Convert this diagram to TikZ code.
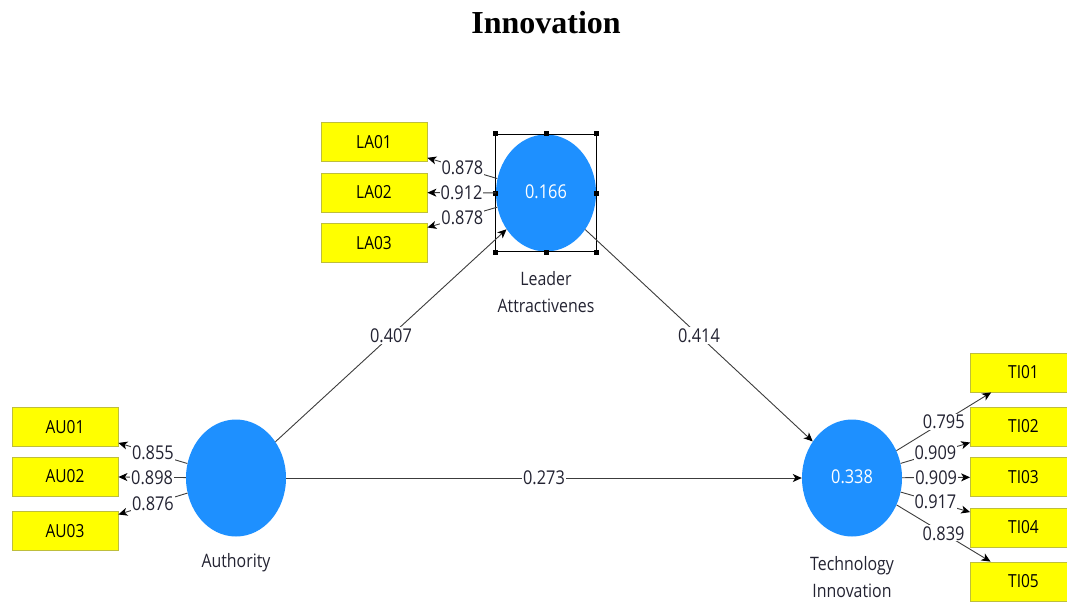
\documentclass[tikz,border=0pt]{standalone}
\usepackage{fontspec}
\setmainfont{Liberation Serif}
\newfontfamily\uifont[FakeStretch=0.86]{Open Sans}
\usetikzlibrary{shapes.geometric,arrows.meta,fit}

\definecolor{lvblue}{RGB}{30,144,255}
\definecolor{indyellow}{RGB}{255,255,0}
\definecolor{indedge}{RGB}{190,190,60}
\definecolor{pathgray}{RGB}{60,60,60}
\definecolor{txtgray}{RGB}{35,35,50}

\begin{document}
\begin{tikzpicture}[x=1pt,y=-1pt,
  latent/.style={ellipse, fill=lvblue, minimum width=100pt, minimum height=117pt,
    inner sep=0pt, text=white, font=\uifont\fontsize{19}{22}\selectfont},
  indicator/.style={rectangle, fill=indyellow, draw=indedge, line width=0.8pt,
    minimum width=106pt, minimum height=39pt, inner sep=0pt,
    font=\uifont\fontsize{18}{22}\selectfont, text=black},
  caption/.style={align=center, text=txtgray, font=\uifont\fontsize{18.5}{27}\selectfont},
  link/.style={draw=pathgray, line width=0.9pt,
    -{Stealth[length=9pt,width=8pt,inset=2.5pt,black]}},
  coef/.style={fill=white, inner sep=1pt, text=txtgray, font=\uifont\fontsize{19}{22}\selectfont},
  handle/.style={rectangle, fill=black, minimum size=5pt, inner sep=0pt},
]
\useasboundingbox (0,0) rectangle (1067,603);
\clip (0,0) rectangle (1067,603);

% title
\node[font=\bfseries\fontsize{32}{36}\selectfont] (title) at (546,23) {Innovation};

% latent variables
\node[latent] (la) at (546,193) {\raisebox{2pt}{0.166}};
\node[latent] (au) at (236,478) {};
\node[latent] (ti) at (852,478) {\raisebox{2pt}{0.338}};

% captions
\node[caption] (lacap) at (546,292) {Leader\\Attractivenes};
\node[caption] (aucap) at (236,563) {Authority};
\node[caption] (ticap) at (852,577) {Technology\\Innovation};

% indicators
\node[indicator] (la01) at (374,142) {LA01};
\node[indicator] (la02) at (374,192.5) {LA02};
\node[indicator] (la03) at (374,243) {LA03};
\node[indicator] (au01) at (65,427) {AU01};
\node[indicator] (au02) at (65,476.5) {AU02};
\node[indicator] (au03) at (65,531) {AU03};
\node[indicator] (ti01) at (1023.5,372.5) {TI01};
\node[indicator] (ti02) at (1023.5,426.5) {TI02};
\node[indicator] (ti03) at (1023.5,477) {TI03};
\node[indicator] (ti04) at (1023.5,527.5) {TI04};
\node[indicator] (ti05) at (1023.5,581.5) {TI05};

% selection frame with handles
\node[fit=(la), inner sep=0pt, draw=black, line width=0.8pt] (sel) {};
\foreach \a in {north west,north,north east,east,south east,south,south west,west}
  \node[handle] at (sel.\a) {};

% outer loadings
\draw[link] (la) -- node[coef] {0.878} (la01);
\draw[link] (la) -- node[coef] {0.912} (la02);
\draw[link] (la) -- node[coef] {0.878} (la03);
\draw[link] (au) -- node[coef] {0.855} (au01);
\draw[link] (au) -- node[coef] {0.898} (au02);
\draw[link] (au) -- node[coef] {0.876} (au03);
\draw[link] (ti) -- node[coef] {0.795} (ti01);
\draw[link] (ti) -- node[coef] {0.909} (ti02);
\draw[link] (ti) -- node[coef] {0.909} (ti03);
\draw[link] (ti) -- node[coef] {0.917} (ti04);
\draw[link] (ti) -- node[coef] {0.839} (ti05);

% path coefficients
\draw[link] (au) -- node[coef] {0.407} (la);
\draw[link] (la) -- node[coef] {0.414} (ti);
\draw[link] (au) -- node[coef] {0.273} (ti);
\end{tikzpicture}
\end{document}
